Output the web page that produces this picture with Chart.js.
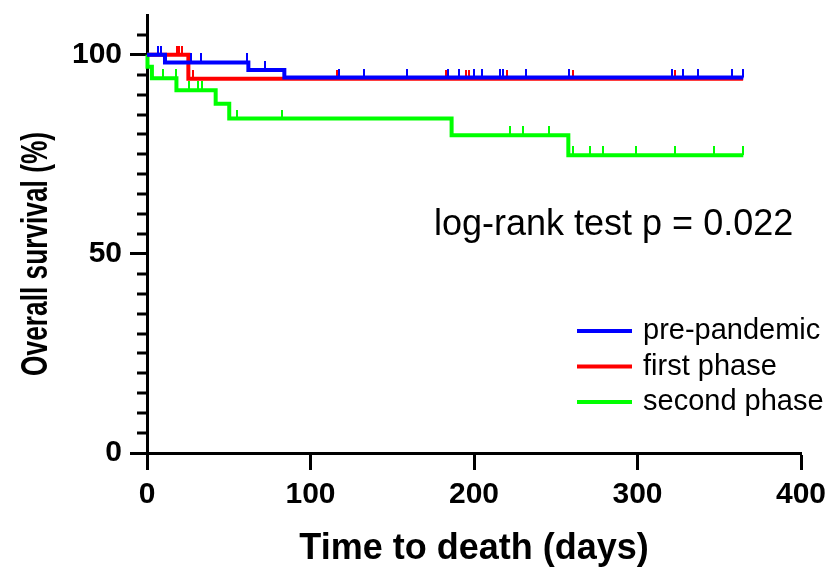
<!DOCTYPE html>
<html>
<head>
<meta charset="utf-8">
<script src="https://cdn.jsdelivr.net/npm/chart.js@4.4.0/dist/chart.umd.min.js"></script>
<style>
    html, body { margin: 0; padding: 0; background: #fff; }
    #wrap { width: 834px; height: 568px; }
</style>
</head>
<body>
<div id="wrap"><canvas id="survivalChart" width="834" height="568"></canvas></div>
<script>
// groups and colours
var groups = ['pre-pandemic', 'first phase', 'second phase'];
var colors = ['#0000ff', '#ff0000', '#00ff00'];

// Kaplan-Meier steps: time (days) and survival (%) after the step
var preTimes = [0, 11, 62, 84, 364.7];
var preSurv = [100, 98.1, 96.2, 94.3, 94.3];
var preCensored = [6.9, 8.4, 26.7, 32.8, 61, 72, 117.6, 133, 158.8, 184.2, 190.8, 200, 204.9, 215.9, 217.9, 231.8, 257.9, 320.9, 328, 336.7, 357.9, 364.7];

var firstTimes = [0, 25.3, 364.6];
var firstSurv = [100, 94.0, 94.0];
var firstCensored = [18.2, 19.8, 21.4, 28, 116, 182.9, 195, 196.7, 220, 260.7, 323];

var secondTimes = [0, 0.3, 3, 18, 42, 50.3, 186.3, 257.7, 364.7];
var secondSurv = [100, 97.0, 94.1, 91.1, 87.7, 84.0, 79.8, 74.8, 74.8];
var secondCensored = [10, 17.7, 25.9, 31.4, 33.4, 54.8, 82.4, 222, 229.8, 246, 260.3, 271, 279, 298.9, 323, 347, 364.7];

var xTicks = [0, 100, 200, 300, 400];
var yTicks = [0, 50, 100];
var xTitle = 'Time to death (days)';
var yTitle = 'Overall survival (%)';
var pValueText = 'log-rank test p = 0.022';

var FONT = "'Liberation Sans', Arial, Helvetica, sans-serif";

// survival level of a step curve at time t
function levelAt(times, surv, t) {
    var v = surv[0];
    for (var i = 0; i < times.length; i++) {
        if (times[i] <= t) v = surv[i];
    }
    return v;
}

// small vertical tick sitting on top of the curve
function tickMark(color) {
    var c = document.createElement('canvas');
    c.width = 2;
    c.height = 18;
    var g = c.getContext('2d');
    g.fillStyle = color;
    g.fillRect(0, 0, 2, 9);
    return c;
}

function curve(times, surv, color) {
    return {
        data: times.map(function(t, i) { return {x: t, y: surv[i]}; }),
        borderColor: color,
        borderWidth: 4,
        stepped: true,
        pointRadius: 0,
        fill: false,
        clip: false
    };
}

function censors(times, surv, cens, color) {
    return {
        data: cens.map(function(t) { return {x: t, y: levelAt(times, surv, t)}; }),
        showLine: false,
        pointStyle: tickMark(color),
        pointRadius: 5,
        clip: false
    };
}

var decorPlugin = {
    id: 'decor',
    beforeDatasetsDraw: function(chart) {
        var ctx = chart.ctx;
        var ys = chart.scales.y;
        var x0 = chart.chartArea.left;
        ctx.save();
        ctx.strokeStyle = '#000';
        ctx.lineWidth = 3;
        for (var v = 5; v < 110; v += 5) {
            if (v % 50 === 0) continue;
            var py = Math.round(ys.getPixelForValue(v));
            ctx.beginPath();
            ctx.moveTo(x0 - 10, py);
            ctx.lineTo(x0, py);
            ctx.stroke();
        }
        ctx.restore();
    },
    afterDraw: function(chart) {
        var ctx = chart.ctx;
        var ys = chart.scales.y;
        ctx.save();
        ctx.fillStyle = '#000';

        // y axis title, centred on the 0-100 range
        ctx.save();
        ctx.translate(37, (ys.getPixelForValue(0) + ys.getPixelForValue(100)) / 2);
        ctx.rotate(-Math.PI / 2);
        ctx.font = 'bold 36px ' + FONT;
        ctx.textAlign = 'center';
        ctx.textBaseline = 'middle';
        ctx.fillText(yTitle, 0, 0, 244);
        ctx.restore();

        // log-rank annotation
        ctx.font = '36px ' + FONT;
        ctx.textAlign = 'left';
        ctx.textBaseline = 'alphabetic';
        ctx.fillText(pValueText, 434, 235);

        // legend
        ctx.font = '29px ' + FONT;
        ctx.textBaseline = 'middle';
        for (var i = 0; i < groups.length; i++) {
            var ly = 331 + i * 35.5;
            ctx.strokeStyle = colors[i];
            ctx.lineWidth = 4;
            ctx.beginPath();
            ctx.moveTo(577, ly);
            ctx.lineTo(632, ly);
            ctx.stroke();
            ctx.fillStyle = '#000';
            ctx.fillText(groups[i], 643, ly);
        }
        ctx.restore();
    }
};

var ctx = document.getElementById('survivalChart').getContext('2d');
var survivalChart = new Chart(ctx, {
    type: 'line',
    data: {
        datasets: [
            censors(preTimes, preSurv, preCensored, colors[0]),
            curve(preTimes, preSurv, colors[0]),
            censors(firstTimes, firstSurv, firstCensored, colors[1]),
            curve(firstTimes, firstSurv, colors[1]),
            censors(secondTimes, secondSurv, secondCensored, colors[2]),
            curve(secondTimes, secondSurv, colors[2])
        ]
    },
    options: {
        responsive: false,
        animation: false,
        events: [],
        layout: { padding: { top: 15, right: 33, left: 0, bottom: 0 } },
        plugins: {
            legend: { display: false },
            tooltip: { enabled: false }
        },
        scales: {
            x: {
                type: 'linear',
                min: xTicks[0],
                max: xTicks[xTicks.length - 1],
                afterFit: function(s) { s.height = 115; s.paddingLeft = 0; s.paddingRight = 0; },
                afterBuildTicks: function(s) { s.ticks = xTicks.map(function(v) { return {value: v}; }); },
                border: { color: '#000', width: 3 },
                grid: { drawOnChartArea: false, tickLength: 17, tickWidth: 3, tickColor: '#000' },
                ticks: { color: '#000', padding: 7, maxRotation: 0, font: { family: FONT, size: 30, weight: 'bold' } },
                title: { display: true, text: xTitle, color: '#000', padding: { top: 0, bottom: -3 }, font: { family: FONT, size: 36, weight: 'bold' } }
            },
            y: {
                type: 'linear',
                min: 0,
                max: 110,
                afterFit: function(s) { s.width = 147; s.paddingTop = 0; s.paddingBottom = 0; },
                afterBuildTicks: function(s) { s.ticks = yTicks.map(function(v) { return {value: v}; }); },
                border: { color: '#000', width: 3 },
                grid: { drawOnChartArea: false, tickLength: 17, tickWidth: 3, tickColor: '#000' },
                ticks: { color: '#000', padding: 8, font: { family: FONT, size: 30, weight: 'bold' } }
            }
        }
    },
    plugins: [decorPlugin]
});
</script>
</body>
</html>
